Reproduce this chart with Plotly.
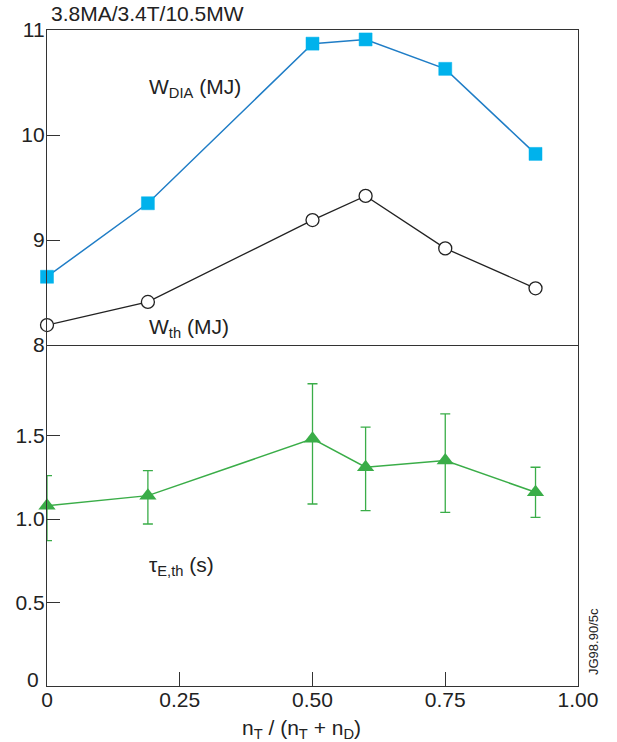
import plotly.graph_objects as go

# ---- data ----
x_vals = [0.0, 0.19, 0.50, 0.60, 0.75, 0.92]
w_dia = [8.65, 9.35, 10.87, 10.91, 10.63, 9.82]
w_th = [8.19, 8.41, 9.19, 9.42, 8.92, 8.54]
tau = [1.08, 1.14, 1.48, 1.31, 1.35, 1.16]
tau_hi = [1.26, 1.29, 1.81, 1.55, 1.63, 1.31]
tau_lo = [0.87, 0.97, 1.09, 1.05, 1.04, 1.01]

x_ticks = [0, 0.25, 0.5, 0.75, 1.0]
x_ticktext = ["0", "0.25", "0.50", "0.75", "1.00"]
top_ticks = [8, 9, 10, 11]
bot_ticks = [0, 0.5, 1.0, 1.5]
bot_ticktext = ["", "0.5", "1.0", "1.5"]   # "0" drawn separately, raised
bot_zero_label = "0"

err_plus = [h - v for h, v in zip(tau_hi, tau)]
err_minus = [v - l for v, l in zip(tau, tau_lo)]

FONT = "Liberation Sans, Arial, sans-serif"
AX = "#333333"
GREEN = "#3aad48"
TXT = "#222222"

fig = go.Figure()

fig.add_trace(go.Scatter(
    x=x_vals, y=w_dia, xaxis="x2", yaxis="y2", mode="lines+markers",
    line=dict(color="#1f7dc6", width=1.5),
    marker=dict(symbol="square", size=13, color="#00b2ec",
                line=dict(color="#00b2ec", width=0.5)),
    cliponaxis=False, showlegend=False))

fig.add_trace(go.Scatter(
    x=x_vals, y=w_th, xaxis="x2", yaxis="y2", mode="lines+markers",
    line=dict(color=TXT, width=1.3),
    marker=dict(symbol="circle", size=13, color="white",
                line=dict(color=TXT, width=1.3)),
    cliponaxis=False, showlegend=False))

fig.add_trace(go.Scatter(
    x=x_vals, y=tau, xaxis="x", yaxis="y", mode="lines+markers",
    line=dict(color=GREEN, width=1.5),
    marker=dict(symbol="triangle-up", size=15, color=GREEN),
    error_y=dict(type="data", symmetric=False, array=err_plus,
                 arrayminus=err_minus, color=GREEN, thickness=1.3, width=5),
    cliponaxis=False, showlegend=False))

split = 341 / 656

tickfont = dict(size=21, family=FONT, color=TXT)

fig.update_layout(
    width=617, height=742,
    margin=dict(l=47, r=39, t=30, b=56),
    paper_bgcolor="white", plot_bgcolor="white",
    font=dict(family=FONT, size=21, color=TXT),
    xaxis=dict(domain=[0, 1], anchor="y", range=[0, 1],
               tickvals=x_ticks, ticktext=x_ticktext,
               ticks="inside", ticklen=14, tickwidth=1.3, tickcolor=AX,
               showline=True, linecolor=AX, linewidth=1.3, mirror=False,
               showgrid=False, zeroline=False, tickfont=tickfont,
               ticklabelstandoff=-5),
    xaxis2=dict(domain=[0, 1], anchor="y2", range=[0, 1], matches="x",
                showticklabels=False, ticks="",
                showline=True, linecolor=AX, linewidth=1.3, mirror=True,
                showgrid=False, zeroline=False),
    yaxis=dict(domain=[0, split], anchor="x", range=[0, 2.042],
               tickvals=bot_ticks, ticktext=bot_ticktext,
               ticks="inside", ticklen=13, tickwidth=1.3, tickcolor=AX,
               showline=True, linecolor=AX, linewidth=1.3, mirror=True,
               showgrid=False, zeroline=False, tickfont=tickfont,
               ticklabelstandoff=-3),
    yaxis2=dict(domain=[split, 1], anchor="x2", range=[8, 11],
                tickvals=top_ticks,
                ticks="inside", ticklen=13, tickwidth=1.3, tickcolor=AX,
                showline=True, linecolor=AX, linewidth=1.3, mirror=True,
                showgrid=False, zeroline=False, tickfont=tickfont,
                ticklabelstandoff=-3),
)

ann = [
    dict(text="3.8MA/3.4T/10.5MW", x=49, y=14),
    dict(text="W<sub>DIA</sub> (MJ)", x=147, y=88),
    dict(text="W<sub>th</sub> (MJ)", x=147, y=328),
    dict(text="τ<sub>E,th</sub> (s)", x=147, y=566),
]
for a in ann:
    fig.add_annotation(text=a["text"], xref="paper", yref="paper",
                       x=(a["x"] - 47) / 531, y=(686 - a["y"]) / 656,
                       xanchor="left", yanchor="middle", showarrow=False,
                       font=dict(size=21, family=FONT, color=TXT))

# raised "0" label of the lower y axis
fig.add_annotation(text=bot_zero_label, xref="paper", yref="paper",
                   x=(41 - 47) / 531, y=(686 - 679) / 656,
                   xanchor="right", yanchor="middle", showarrow=False,
                   font=dict(size=21, family=FONT, color=TXT))

fig.add_annotation(text="n<sub>T</sub> / (n<sub>T</sub> + n<sub>D</sub>)",
                   xref="paper", yref="paper",
                   x=(301 - 47) / 531, y=(686 - 729) / 656,
                   xanchor="center", yanchor="middle", showarrow=False,
                   font=dict(size=21, family=FONT, color=TXT))

fig.add_annotation(text="JG98.90/5c", xref="paper", yref="paper",
                   x=(593 - 47) / 531, y=(686 - 642) / 656,
                   xanchor="center", yanchor="middle", showarrow=False,
                   textangle=-90,
                   font=dict(size=13, family=FONT, color=TXT))

fig.write_html("out.html")
